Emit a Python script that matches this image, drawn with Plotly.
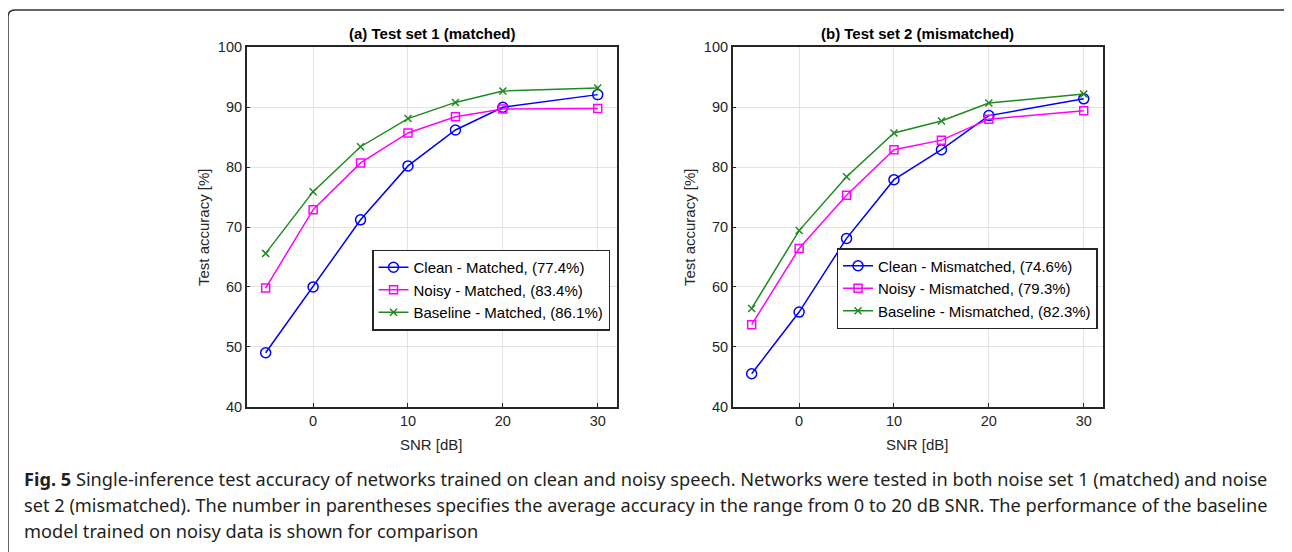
import plotly.graph_objects as go

W, H = 1292, 552
OFF = 8  # page body margin offset

snr = [-5, 0, 5, 10, 15, 20, 30]

# (a) Test set 1 (matched)
clean_matched = [49.0, 60.0, 71.2, 80.2, 86.2, 90.0, 92.1]
noisy_matched = [59.8, 72.9, 80.7, 85.7, 88.4, 89.7, 89.8]
base_matched = [65.6, 75.9, 83.4, 88.1, 90.8, 92.7, 93.2]

# (b) Test set 2 (mismatched)
clean_mismatched = [45.5, 55.8, 68.1, 77.9, 82.9, 88.6, 91.4]
noisy_mismatched = [53.7, 66.4, 75.3, 82.9, 84.5, 88.0, 89.4]
base_mismatched = [56.4, 69.4, 78.4, 85.7, 87.7, 90.7, 92.2]

names_matched = ["Clean - Matched, (77.4%)", "Noisy - Matched, (83.4%)", "Baseline - Matched, (86.1%)"]
names_mismatched = ["Clean - Mismatched, (74.6%)", "Noisy - Mismatched, (79.3%)", "Baseline - Mismatched, (82.3%)"]
titles = ["<b>(a) Test set 1 (matched)</b>", "<b>(b) Test set 2 (mismatched)</b>"]

x_ticks = [0, 10, 20, 30]
y_ticks = [40, 50, 60, 70, 80, 90, 100]

caption = [
    "<b>Fig. 5</b> Single-inference test accuracy of networks trained on clean and noisy speech. Networks were tested in both noise set 1 (matched) and noise",
    "set 2 (mismatched). The number in parentheses specifies the average accuracy in the range from 0 to 20 dB SNR. The performance of the baseline",
    "model trained on noisy data is shown for comparison",
]

colors = ["#0000ff", "#ff00ff", "#1f8a1f"]
symbols = ["circle-open", "square-open", "x-thin-open"]
msizes = [10, 8, 7]

def px(x):
    return (x - OFF) / W

def py(y):
    return 1 - (y - OFF) / H

fig = go.Figure()

panels = [
    ([clean_matched, noisy_matched, base_matched], names_matched, "x", "y", "legend"),
    ([clean_mismatched, noisy_mismatched, base_mismatched], names_mismatched, "x2", "y2", "legend2"),
]
for series, names, xa, ya, lg in panels:
    for i, (vals, nm) in enumerate(zip(series, names)):
        fig.add_trace(go.Scatter(
            x=snr, y=vals, name=nm, mode="lines+markers",
            xaxis=xa, yaxis=ya, legend=lg,
            line=dict(color=colors[i], width=1.5),
            marker=dict(symbol=symbols[i], size=msizes[i], color=colors[i],
                        line=dict(color=colors[i], width=1.5)),
        ))

axcol = "#262626"
tickfont = dict(family="Liberation Sans, Arial", size=14.5, color=axcol)
xdoms = [[px(246.7), px(616.7)], [px(732.7), px(1102.7)]]
ydom = [py(406.7), py(47.3)]

common_x = dict(range=[-7, 32], tickvals=x_ticks, ticks="inside", ticklen=4,
                tickcolor=axcol, showline=True, linecolor=axcol, linewidth=1.5,
                mirror=True, showgrid=True, gridcolor="#e3e3e3", gridwidth=1,
                zeroline=False, tickfont=tickfont, automargin=False)
common_y = dict(range=[40, 100], tickvals=y_ticks, ticks="inside", ticklen=4,
                tickcolor=axcol, showline=True, linecolor=axcol, linewidth=1.5,
                mirror=True, showgrid=True, gridcolor="#e3e3e3", gridwidth=1,
                zeroline=False, tickfont=tickfont, automargin=False)

legfont = dict(family="Liberation Sans, Arial", size=15, color="black")
fig.update_layout(
    width=W, height=H,
    margin=dict(l=0, r=0, t=0, b=0, pad=0, autoexpand=False),
    paper_bgcolor="white", plot_bgcolor="white",
    xaxis=dict(domain=xdoms[0], anchor="y", **common_x),
    yaxis=dict(domain=ydom, anchor="x", **common_y),
    xaxis2=dict(domain=xdoms[1], anchor="y2", **common_x),
    yaxis2=dict(domain=ydom, anchor="x2", **common_y),
    legend=dict(x=px(491), y=py(290), xanchor="center", yanchor="middle",
                bgcolor="white", bordercolor=axcol, borderwidth=1.5,
                font=legfont, tracegroupgap=0, itemwidth=30),
    legend2=dict(x=px(967), y=py(288.5), xanchor="center", yanchor="middle",
                 bgcolor="white", bordercolor=axcol, borderwidth=1.5,
                 font=legfont, tracegroupgap=0, itemwidth=30),
    showlegend=True,
)

annotations = []
centers = [(246.7 + 616.7) / 2, (732.7 + 1102.7) / 2]
ylab_x = [203, 689]
for k in range(2):
    annotations.append(dict(text=titles[k], x=px(centers[k]), y=py(34), xref="paper", yref="paper",
                            xanchor="center", yanchor="middle", showarrow=False,
                            font=dict(family="Liberation Sans, Arial", size=15, color="black")))
    annotations.append(dict(text="SNR [dB]", x=px(centers[k]), y=py(444), xref="paper", yref="paper",
                            xanchor="center", yanchor="middle", showarrow=False,
                            font=dict(family="Liberation Sans, Arial", size=15, color=axcol)))
    annotations.append(dict(text="Test accuracy [%]", x=px(ylab_x[k]), y=py(227), xref="paper", yref="paper",
                            xanchor="center", yanchor="middle", showarrow=False, textangle=-90,
                            font=dict(family="Liberation Sans, Arial", size=15, color=axcol)))

cap_y = [479, 505, 531]
for line, yy in zip(caption, cap_y):
    annotations.append(dict(text=line, x=px(22), y=py(yy), xref="paper", yref="paper",
                            xanchor="left", yanchor="middle", showarrow=False,
                            font=dict(family="Noto Sans", size=18.2, color="#231f20")))
fig.update_layout(annotations=annotations)

# rounded frame open at the bottom
path = (f"M {px(8)},{py(560)} L {px(8)},{py(17)} Q {px(8)},{py(10)} {px(15)},{py(10)} "
        f"L {px(1283)},{py(10)} Q {px(1290)},{py(10)} {px(1290)},{py(17)} L {px(1290)},{py(560)}")
fig.add_shape(type="path", path=path, xref="paper", yref="paper",
              line=dict(color="#333333", width=1.5))

fig.write_html("out.html")
